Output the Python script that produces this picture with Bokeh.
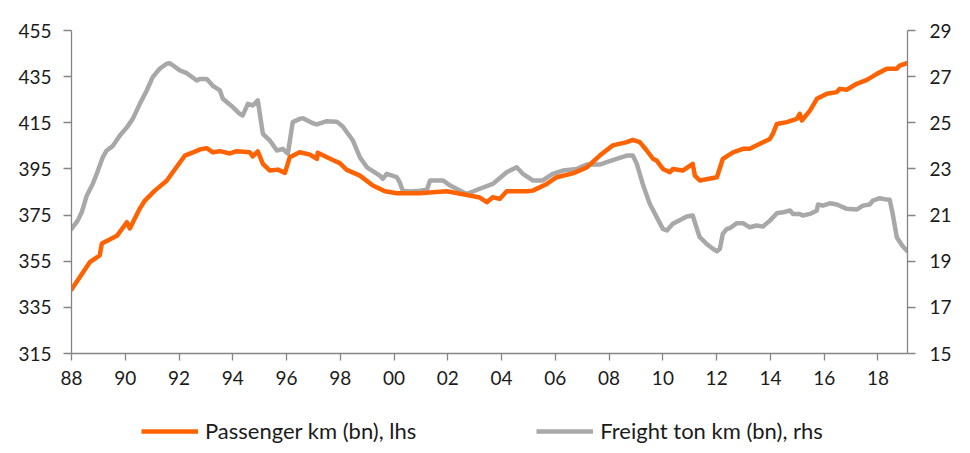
from bokeh.plotting import figure
from bokeh.layouts import column
from bokeh.models import Range1d, LinearAxis, FixedTicker, Legend, LegendItem
from bokeh.embed import file_html
from bokeh.resources import INLINE

# Passenger km (bn), lhs
pass_year = [1988.0, 1988.68, 1989.05, 1989.13, 1989.69, 1990.06, 1990.17, 1990.54, 1990.73, 1991.10,
             1991.55, 1991.66, 1992.22, 1992.77, 1993.03, 1993.26, 1993.52, 1993.89, 1994.15, 1994.63,
             1994.74, 1994.93, 1995.12, 1995.38, 1995.68, 1995.94, 1996.12, 1996.49, 1996.87, 1997.13,
             1997.16, 1997.72, 1997.98, 1998.24, 1998.73, 1999.21, 1999.66, 2000.10, 2000.96, 2001.44,
             2001.96, 2002.71, 2003.19, 2003.45, 2003.67, 2003.93, 2004.19, 2004.94, 2005.16, 2005.68,
             2006.05, 2006.65, 2007.17, 2007.65, 2008.14, 2008.66, 2008.88, 2009.14, 2009.40, 2009.63,
             2009.77, 2010.00, 2010.26, 2010.37, 2010.74, 2011.11, 2011.19, 2011.37, 2012.01, 2012.23,
             2012.61, 2012.98, 2013.23, 2013.61, 2013.98, 2014.09, 2014.24, 2014.61, 2014.98, 2015.09,
             2015.17, 2015.47, 2015.73, 2016.10, 2016.47, 2016.58, 2016.84, 2017.21, 2017.59, 2017.96,
             2018.33, 2018.70, 2018.81, 2019.07]
pass_val = [342.7, 354.6, 357.5, 362.7, 366.0, 371.9, 369.2, 377.8, 381.3, 385.6,
            390.0, 391.8, 400.8, 403.4, 404.0, 402.2, 402.7, 401.7, 402.7, 402.2,
            400.4, 402.6, 397.2, 394.3, 394.7, 393.3, 400.1, 402.2, 401.2, 399.4,
            402.0, 398.9, 397.5, 394.6, 392.1, 387.8, 385.3, 384.5, 384.5, 384.9,
            385.3, 383.7, 382.6, 380.6, 382.7, 382.0, 385.3, 385.3, 385.6, 388.5,
            391.4, 393.1, 395.7, 400.8, 405.2, 406.6, 407.6, 406.6, 403.0, 399.4,
            398.6, 395.0, 393.6, 395.0, 394.3, 397.2, 392.1, 390.0, 391.4, 399.4,
            402.2, 403.7, 403.7, 405.9, 408.0, 410.2, 414.5, 415.3, 416.7, 418.9,
            416.0, 420.3, 425.4, 427.6, 428.3, 429.7, 429.3, 431.9, 433.6, 436.2,
            438.4, 438.4, 439.8, 440.8]

# Freight ton km (bn), rhs
frt_year = [1988.0, 1988.23, 1988.38, 1988.57, 1988.79, 1988.94, 1989.16, 1989.31, 1989.54, 1989.80,
            1990.06, 1990.28, 1990.54, 1990.80, 1991.02, 1991.28, 1991.54, 1991.66, 1992.03, 1992.29,
            1992.66, 1992.77, 1993.03, 1993.26, 1993.52, 1993.63, 1994.00, 1994.26, 1994.37, 1994.56,
            1994.74, 1994.93, 1995.12, 1995.38, 1995.64, 1995.86, 1996.05, 1996.23, 1996.49, 1996.61,
            1996.98, 1997.13, 1997.50, 1997.87, 1998.09, 1998.47, 1998.73, 1998.99, 1999.47, 1999.58,
            1999.73, 2000.10, 2000.21, 2000.32, 2000.59, 2000.96, 2001.22, 2001.34, 2001.82, 2002.09,
            2002.57, 2002.71, 2003.19, 2003.67, 2004.19, 2004.56, 2004.79, 2005.16, 2005.53, 2005.90,
            2006.28, 2006.80, 2007.17, 2007.65, 2007.91, 2008.28, 2008.66, 2008.88, 2009.03, 2009.25,
            2009.51, 2009.77, 2010.00, 2010.15, 2010.37, 2010.64, 2010.89, 2011.11, 2011.26, 2011.37,
            2011.63, 2011.86, 2012.01, 2012.12, 2012.23, 2012.38, 2012.49, 2012.75, 2012.98, 2013.23,
            2013.49, 2013.72, 2013.98, 2014.24, 2014.47, 2014.73, 2014.84, 2015.09, 2015.20, 2015.47,
            2015.73, 2015.77, 2015.95, 2016.21, 2016.47, 2016.84, 2017.21, 2017.44, 2017.70, 2017.81,
            2018.07, 2018.33, 2018.44, 2018.55, 2018.70, 2018.90, 2019.07]
frt_val = [20.40, 20.76, 21.12, 21.85, 22.35, 22.79, 23.50, 23.80, 24.00, 24.45,
           24.80, 25.17, 25.82, 26.40, 26.98, 27.34, 27.56, 27.58, 27.27, 27.15,
           26.83, 26.90, 26.90, 26.60, 26.40, 26.04, 25.68, 25.39, 25.32, 25.82,
           25.75, 25.97, 24.52, 24.23, 23.80, 23.87, 23.66, 25.03, 25.17, 25.20,
           24.98, 24.93, 25.07, 25.05, 24.84, 24.23, 23.50, 23.07, 22.71, 22.57,
           22.79, 22.64, 22.42, 22.06, 22.02, 22.06, 22.10, 22.50, 22.50, 22.28,
           21.99, 21.92, 22.14, 22.35, 22.86, 23.07, 22.79, 22.50, 22.50, 22.79,
           22.93, 23.00, 23.19, 23.19, 23.29, 23.44, 23.58, 23.58, 23.22, 22.35,
           21.49, 20.91, 20.40, 20.33, 20.62, 20.79, 20.94, 20.98, 20.43, 20.04,
           19.75, 19.54, 19.43, 19.54, 20.19, 20.40, 20.43, 20.65, 20.65, 20.47,
           20.55, 20.50, 20.76, 21.08, 21.12, 21.20, 21.05, 21.05, 20.98, 21.05,
           21.20, 21.46, 21.41, 21.51, 21.46, 21.27, 21.24, 21.41, 21.46, 21.63,
           21.73, 21.67, 21.66, 21.05, 20.04, 19.68, 19.46]

x_ticks = list(range(1988, 2019, 2))
x_labels = ["88", "90", "92", "94", "96", "98", "00", "02", "04", "06", "08", "10", "12", "14", "16", "18"]
left_ticks = [315, 335, 355, 375, 395, 415, 435, 455]
right_ticks = [15, 17, 19, 21, 23, 25, 27, 29]
series_names = ["Passenger km (bn), lhs", "Freight ton km (bn), rhs"]

FONT = "Lato"
TXT = "#1b1b1b"
AX = "#858585"
ORANGE = "#FF6200"
GREY = "#A8A8A8"

p = figure(width=968, height=400, output_backend="svg", toolbar_location=None,
           x_range=Range1d(1988, 2019.1), y_range=Range1d(315, 455),
           min_border_left=71, min_border_right=61, min_border_top=30, min_border_bottom=47)
p.extra_y_ranges = {"r": Range1d(15, 29)}
p.outline_line_color = None
p.grid.grid_line_color = None
p.background_fill_color = "white"
p.border_fill_color = "white"

def style(ax):
    ax.axis_line_color = AX
    ax.major_tick_line_color = AX
    ax.minor_tick_line_color = None
    ax.major_tick_in = 0
    ax.major_tick_out = 8
    ax.major_label_text_font = FONT
    ax.major_label_text_font_size = "19px"
    ax.major_label_text_color = TXT
    ax.axis_line_width = 1.3
    ax.major_tick_line_width = 1.3

xa = p.xaxis[0]
xa.ticker = FixedTicker(ticks=x_ticks)
xa.major_label_overrides = {t: l for t, l in zip(x_ticks, x_labels)}
style(xa)
xa.major_tick_out = 7
xa.major_label_standoff = 10

ya = p.yaxis[0]
ya.ticker = FixedTicker(ticks=left_ticks)
style(ya)
ya.major_label_standoff = 12

ra = LinearAxis(y_range_name="r", ticker=FixedTicker(ticks=right_ticks))
style(ra)
ra.major_label_standoff = 14
p.add_layout(ra, "right")

p.line(frt_year, frt_val, y_range_name="r", line_color=GREY, line_width=4.5,
       line_join="round", line_cap="round")
p.line(pass_year, pass_val, line_color=ORANGE, line_width=4.5,
       line_join="round", line_cap="round")

# legend strip below the chart (keys reference off-screen stand-in lines)
lg = figure(width=968, height=53, output_backend="svg", toolbar_location=None,
            x_range=Range1d(0, 1), y_range=Range1d(0, 1),
            x_axis_location=None, y_axis_location=None,
            min_border_left=0, min_border_right=0, min_border_top=0, min_border_bottom=0)
lg.grid.grid_line_color = None
lg.outline_line_color = None
lr1 = lg.line([-5, -4], [-5, -4], line_color=ORANGE, line_width=4.5)
lr2 = lg.line([-5, -4], [-5, -4], line_color=GREY, line_width=4.5)
legend = Legend(items=[LegendItem(label=series_names[0], renderers=[lr1]),
                       LegendItem(label=series_names[1], renderers=[lr2])],
                orientation="horizontal", location=(70, 9),
                label_text_font=FONT, label_text_font_size="22px", label_text_color=TXT,
                glyph_width=57, glyph_height=20, label_standoff=7, spacing=120,
                padding=0, margin=0, border_line_color=None, background_fill_alpha=0)
lg.add_layout(legend, "center")

layout = column(p, lg, spacing=0)
open("out.html", "w").write(file_html(layout, INLINE))
